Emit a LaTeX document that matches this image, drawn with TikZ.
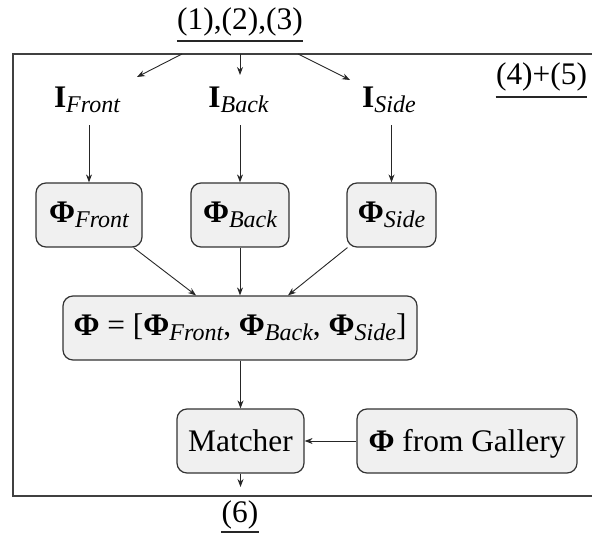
\documentclass[tikz,border=0pt]{standalone}
\usepackage{fontspec}
\setmainfont{Liberation Serif}
\usetikzlibrary{arrows.meta,calc}
\newcommand\sbs[1]{\raisebox{-2.5pt}{\fontsize{12}{14}\selectfont\itshape #1}}
\newcommand\bphi{\textbf{Φ}}
\begin{document}
\begin{tikzpicture}[x=0.5pt,y=-0.5pt,
  font=\fontsize{15.7}{18}\selectfont,
  box/.style={draw=black!80, fill=black!6, rounded corners=5pt, line width=0.6pt,
    inner sep=0pt, minimum height=32pt, text height=10.4pt, text depth=2.5pt},
  plainbox/.style={box, text depth=0pt},
  lbl/.style={inner sep=0pt, anchor=base},
  inode/.style={inner sep=0pt, anchor=base, text height=10.4pt, text depth=8.5pt},
  arr/.style={-{Stealth[length=4pt,width=3pt]}, line width=0.45pt, draw=black!85},
  frame/.style={draw=black!75, line width=0.6pt},
  uline/.style={draw=black!85, line width=0.8pt}]
\useasboundingbox (0,0) rectangle (592,533);

% frame (open on the right)
\draw[frame] (600,54) -- (13,54) -- (13,496) -- (600,496);

% labels
\node[lbl] (t123) at (240,30) {(1),(2),(3)};
\draw[uline] (t123.west |- 0,41) -- (t123.east |- 0,41);
\node[lbl] (t45) at (541.5,85) {(4)+(5)};
\draw[uline] (t45.west |- 0,97) -- (t45.east |- 0,97);
\node[lbl] (t6) at (240,522) {(6)};
\draw[uline] (t6.west |- 0,532) -- (t6.east |- 0,532);

% image nodes
\node[inode] (iF) at (87,108) {\textbf{I}\sbs{Front}};
\node[inode] (iB) at (238.5,108) {\textbf{I}\sbs{Back}};
\node[inode] (iS) at (389,108) {\textbf{I}\sbs{Side}};

% feature boxes
\node[box, minimum width=53pt] (pF) at (89,215) {\bphi\sbs{Front}};
\node[box, minimum width=49pt] (pB) at (240,215) {\bphi\sbs{Back}};
\node[box, minimum width=44.5pt] (pS) at (391.5,215) {\bphi\sbs{Side}};

\node[box, minimum width=177pt, text depth=3.4pt] (big) at (240,328)
  {\bphi\ = [\bphi\sbs{Front}, \bphi\sbs{Back}, \bphi\sbs{Side}]};

\node[plainbox, minimum width=63.5pt] (m) at (240.5,441) {Matcher};
\node[plainbox, minimum width=110pt] (g) at (467,441) {\bphi\ from Gallery};

% top arrows from the frame
\coordinate (s1) at (182,54);
\coordinate (e1) at (137,77);
\coordinate (s2) at (240,54);
\coordinate (e2) at (240,75);
\coordinate (s3) at (298,54);
\coordinate (e3) at (350,80);
\draw[arr] (s1) -- (e1);
\draw[arr] (s2) -- (e2);
\draw[arr] (s3) -- (e3);

% I -> Phi
\draw[arr] (iF.south -| pF.north) -- (pF.north);
\draw[arr] (iB.south -| pB.north) -- (pB.north);
\draw[arr] (iS.south -| pS.north) -- (pS.north);

% Phi -> big
\draw[arr] ([xshift=-4.5pt]pF.south east) -- ([xshift=-22pt]big.north);
\draw[arr] (pB.south) -- (pB.south |- big.north);
\draw[arr] ([xshift=0.5pt]pS.south west) -- ([xshift=24pt]big.north);

% big -> matcher
\draw[arr] (big.south -| m.north) -- (m.north);
\draw[arr] (g.west) -- (m.east);

% matcher -> output
\coordinate (out) at (240.5,487);
\draw[arr] (m.south) -- (out);
\end{tikzpicture}
\end{document}
